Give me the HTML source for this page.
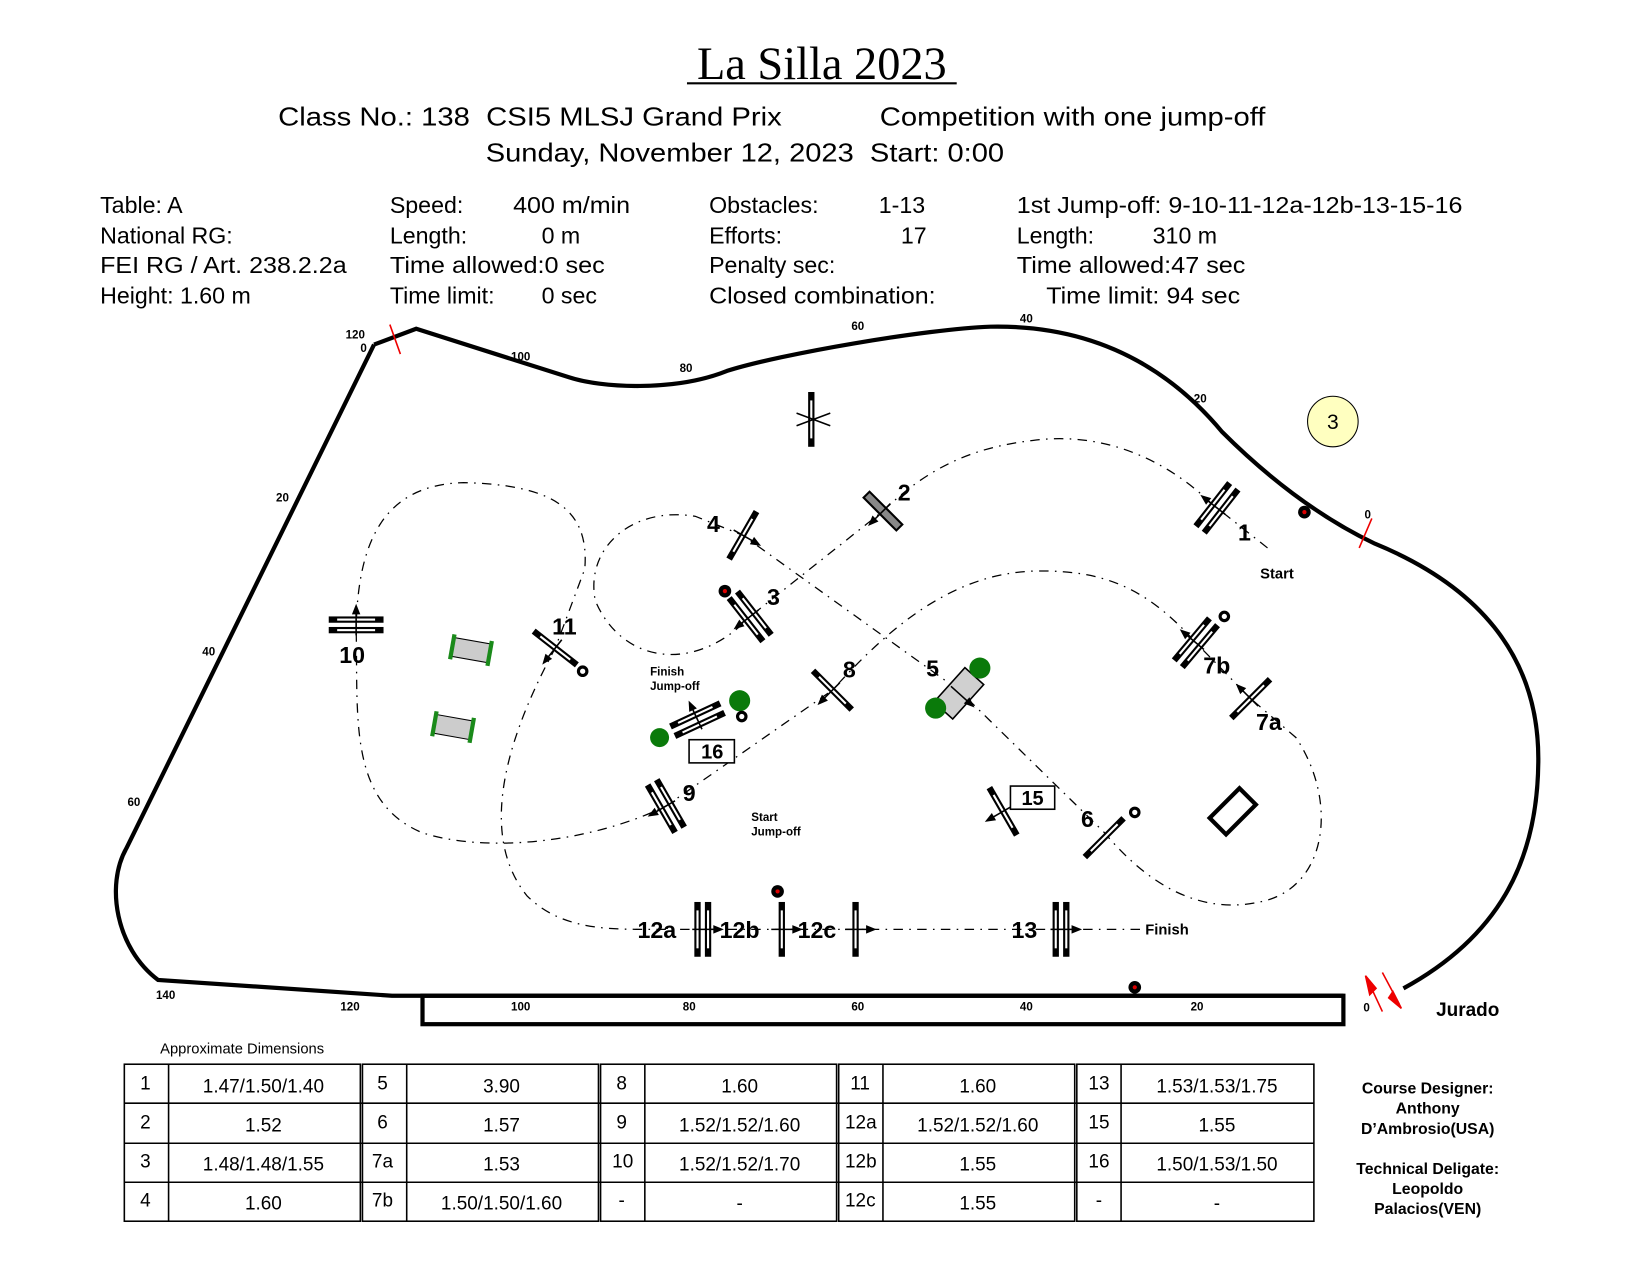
<!DOCTYPE html>
<html><head><meta charset="utf-8"><style>
html,body{margin:0;padding:0;background:#fff}
svg{display:block}
text{font-family:"Liberation Sans",sans-serif;white-space:pre}
</style></head><body>
<svg width="1650" height="1275" viewBox="0 0 1566 1210" xmlns="http://www.w3.org/2000/svg" xml:space="preserve">
<defs>
<g id="f"><rect x="-26" y="-3" width="52" height="6" fill="#000"/><rect x="-18" y="-1" width="36" height="2" fill="#fff"/></g>
<g id="o"><use href="#f" y="-5"/><use href="#f" y="5"/></g>
<g id="a"><line x1="0" y1="10" x2="0" y2="-12" stroke="#000" stroke-width="1.5"/><path d="M0,-20 L-4,-10 L4,-10 Z" fill="#000"/></g>
</defs>
<!-- Header -->
<text x="780" y="75" font-size="44" text-anchor="middle" style="font-family:'Liberation Serif',serif">La Silla 2023</text>
<line x1="652" y1="79" x2="908" y2="79" stroke="#000" stroke-width="2"/>
<g font-size="25">
<text x="264" y="119" textLength="478" lengthAdjust="spacingAndGlyphs">Class No.: 138  CSI5 MLSJ Grand Prix</text>
<text x="835" y="119" textLength="366" lengthAdjust="spacingAndGlyphs">Competition with one jump-off</text>
<text x="461" y="153" textLength="492" lengthAdjust="spacingAndGlyphs">Sunday, November 12, 2023  Start: 0:00</text>
</g>
<g font-size="22">
<text x="95" y="202">Table: A</text><text x="95" y="231">National RG:</text><text x="95" y="259" textLength="234" lengthAdjust="spacingAndGlyphs">FEI RG / Art. 238.2.2a</text><text x="95" y="288">Height: 1.60 m</text>
<text x="370" y="202">Speed:</text><text x="487" y="202" textLength="111" lengthAdjust="spacingAndGlyphs">400 m/min</text>
<text x="370" y="231">Length:</text><text x="514" y="231">0 m</text>
<text x="370" y="259" textLength="204" lengthAdjust="spacingAndGlyphs">Time allowed:0 sec</text>
<text x="370" y="288">Time limit:</text><text x="514" y="288">0 sec</text>
<text x="673" y="202">Obstacles:</text><text x="834" y="202">1-13</text>
<text x="673" y="231">Efforts:</text><text x="855" y="231">17</text>
<text x="673" y="259">Penalty sec:</text>
<text x="673" y="288" textLength="215" lengthAdjust="spacingAndGlyphs">Closed combination:</text>
<text x="965" y="202" textLength="423" lengthAdjust="spacingAndGlyphs">1st Jump-off: 9-10-11-12a-12b-13-15-16</text>
<text x="965" y="231">Length:</text><text x="1094" y="231">310 m</text>
<text x="965" y="259" textLength="217" lengthAdjust="spacingAndGlyphs">Time allowed:47 sec</text>
<text x="993" y="288" textLength="184" lengthAdjust="spacingAndGlyphs">Time limit: 94 sec</text>
</g>
<!-- Arena -->
<path d="M355,327 L395,312 L540,358 C570,368 640,372 690,352 C740,336 880,312 940,310 C1040,308 1110,350 1160,410 C1200,450 1250,490 1305,516 C1400,555 1460,620 1460,720 C1460,820 1420,890 1332,938" fill="none" stroke="#000" stroke-width="4"/>
<path d="M1275,945 L372,945 L150,930 C110,900 100,840 120,805 L355,327" fill="none" stroke="#000" stroke-width="4"/>
<rect x="401" y="945" width="874" height="27" fill="none" stroke="#000" stroke-width="4"/>
<g font-size="11" font-weight="bold">
<text x="328" y="321">120</text><text x="342" y="334">0</text><text x="485" y="342">100</text><text x="645" y="353">80</text><text x="808" y="313">60</text><text x="968" y="306">40</text><text x="1133" y="382">20</text><text x="1295" y="492">0</text>
<text x="262" y="476">20</text><text x="192" y="622">40</text><text x="121" y="765">60</text><text x="148" y="948">140</text><text x="323" y="959">120</text>
<text x="485" y="959">100</text><text x="648" y="959">80</text><text x="808" y="959">60</text><text x="968" y="959">40</text><text x="1130" y="959">20</text><text x="1294" y="960">0</text>
</g>
<g stroke="#e00" stroke-width="1.5" fill="#e00">
<line x1="370" y1="308" x2="380" y2="336"/><line x1="1302" y1="492" x2="1290" y2="520"/>
<line x1="1298" y1="930" x2="1312" y2="960"/><path d="M1296,926 L1300,944 L1306,938Z"/>
<line x1="1312" y1="923" x2="1328" y2="953"/><path d="M1330,957 L1322,941 L1318,947Z"/>
</g>
<text x="1363" y="964" font-size="18" font-weight="bold">Jurado</text>
<circle cx="1265" cy="400" r="24" fill="#ffffc0" stroke="#000" stroke-width="1"/>
<text x="1265" y="407" font-size="20" text-anchor="middle">3</text>
<!-- Track -->
<path d="M1203,520 L1150,478 C1100,430 1040,410 980,418 C920,425 880,445 838,485 L712,585 C660,640 590,630 565,570 C555,520 600,480 660,490 L705,508 L910,655 L1048,790 C1090,840 1140,870 1200,855 C1260,840 1270,760 1230,700 L1187,663 L1135,610 C1090,560 1050,540 980,542 C900,545 840,600 790,655 L632,765 C560,800 460,810 400,790 C330,760 340,680 338,595 C340,520 360,460 440,458 C520,460 560,480 555,540 L527,615 C470,720 460,800 500,850 C530,880 570,882 610,882 L1085,882" fill="none" stroke="#000" stroke-width="1.2" stroke-dasharray="9 6 1.5 6"/>
<!-- fences -->
<g transform="translate(1155,482) rotate(-52)"><use href="#o"/><use href="#a"/></g>
<g transform="translate(838,485) rotate(45)"><rect x="-22" y="-4" width="44" height="8" fill="#888" stroke="#000" stroke-width="2"/><use href="#a" transform="rotate(180)"/></g>
<g transform="translate(712,585) rotate(52)"><use href="#o"/><use href="#a" transform="rotate(180)"/></g>
<g transform="translate(705,508) rotate(-60)"><use href="#f"/><use href="#a" transform="rotate(180)"/></g>
<g transform="translate(910,658) rotate(-48)"><rect x="-22" y="-12" width="44" height="24" fill="#d0d0d0" stroke="#000" stroke-width="1.5"/><use href="#a" transform="rotate(180)"/></g>
<g transform="translate(1048,795) rotate(-45)"><use href="#f"/></g>
<g transform="translate(1187,663) rotate(-45)"><use href="#f"/><use href="#a"/></g>
<g transform="translate(1135,610) rotate(-50)"><use href="#o"/><use href="#a"/></g>
<g transform="translate(790,655) rotate(45)"><use href="#f"/><use href="#a" transform="rotate(180)"/></g>
<g transform="translate(632,765) rotate(60)"><use href="#o"/><use href="#a" transform="rotate(180)"/></g>
<g transform="translate(338,593)"><use href="#o"/><use href="#a"/></g>
<g transform="translate(527,615) rotate(38)"><use href="#f"/><use href="#a" transform="rotate(180)"/></g>
<g transform="translate(667,882) rotate(90)"><use href="#o"/><use href="#a"/></g>
<g transform="translate(742,882) rotate(90)"><use href="#f"/><use href="#a"/></g>
<g transform="translate(812,882) rotate(90)"><use href="#f"/><use href="#a"/></g>
<g transform="translate(1007,882) rotate(90)"><use href="#o"/><use href="#a"/></g>
<g transform="translate(952,770) rotate(60)"><use href="#f"/><use href="#a" transform="rotate(180)"/></g>
<g transform="translate(662,683) rotate(-25)"><use href="#o"/><use href="#a"/></g>
<g transform="translate(770,398) rotate(90)"><use href="#f"/></g>
<path d="M756,392 L788,404 M756,404 L788,392" stroke="#000" stroke-width="1.5"/>
<g transform="translate(447,617) rotate(10)"><rect x="-18" y="-9" width="36" height="18" fill="#ccc" stroke="#000"/><rect x="-20" y="-12" width="4" height="24" fill="#1a8a1a"/><rect x="16" y="-12" width="4" height="24" fill="#1a8a1a"/></g>
<g transform="translate(430,690) rotate(10)"><rect x="-18" y="-9" width="36" height="18" fill="#ccc" stroke="#000"/><rect x="-20" y="-12" width="4" height="24" fill="#1a8a1a"/><rect x="16" y="-12" width="4" height="24" fill="#1a8a1a"/></g>
<g transform="translate(1170,770) rotate(-45)"><rect x="-20" y="-11" width="40" height="22" fill="none" stroke="#000" stroke-width="4"/></g>
<!-- bushes -->
<g fill="#0a7a0a"><circle cx="702" cy="665" r="10"/><circle cx="930" cy="634" r="10"/><circle cx="888" cy="672" r="10"/><circle cx="626" cy="700" r="9"/></g>
<!-- dots -->
<g fill="#000"><circle cx="1238" cy="486" r="6"/><circle cx="688" cy="561" r="6"/><circle cx="738" cy="846" r="6"/><circle cx="1077" cy="937" r="6"/></g>
<g fill="#d00"><circle cx="1238" cy="486" r="2"/><circle cx="688" cy="561" r="2"/><circle cx="738" cy="846" r="2"/><circle cx="1077" cy="937" r="2"/></g>
<g fill="none" stroke="#000" stroke-width="3"><circle cx="1162" cy="585" r="4"/><circle cx="553" cy="637" r="4"/><circle cx="704" cy="680" r="4"/><circle cx="1077" cy="771" r="4"/></g>
<!-- labels -->
<g font-weight="bold" font-size="22">
<text x="1175" y="513">1</text><text x="852" y="475">2</text><text x="728" y="574">3</text><text x="671" y="505">4</text><text x="879" y="642">5</text><text x="1026" y="785">6</text><text x="1192" y="693">7a</text><text x="1142" y="639">7b</text><text x="800" y="643">8</text><text x="648" y="760">9</text><text x="322" y="629">10</text><text x="524" y="602">11</text>
<text x="605" y="890">12a</text><text x="683" y="890">12b</text><text x="757" y="890">12c</text><text x="960" y="890">13</text>
</g>
<rect x="654" y="702" width="43" height="22" fill="#fff" stroke="#000" stroke-width="1.5"/><text x="676" y="720" font-size="19" font-weight="bold" text-anchor="middle">16</text>
<rect x="959" y="746" width="42" height="22" fill="#fff" stroke="#000" stroke-width="1.5"/><text x="980" y="764" font-size="19" font-weight="bold" text-anchor="middle">15</text>
<g font-weight="bold" font-size="14">
<text x="1196" y="549">Start</text><text x="1087" y="887">Finish</text>
<text x="617" y="641" font-size="11">Finish</text><text x="617" y="655" font-size="11">Jump-off</text>
<text x="713" y="779" font-size="11">Start</text><text x="713" y="793" font-size="11">Jump-off</text>
</g>
<!-- table -->
<text x="152" y="1000" font-size="14">Approximate Dimensions</text>
<g fill="none" stroke="#000" stroke-width="1.5">
<rect x="118" y="1010" width="224" height="149"/><line x1="160" y1="1010" x2="160" y2="1159"/>
<rect x="344" y="1010" width="224" height="149"/><line x1="386" y1="1010" x2="386" y2="1159"/>
<rect x="570" y="1010" width="224" height="149"/><line x1="612" y1="1010" x2="612" y2="1159"/>
<rect x="796" y="1010" width="224" height="149"/><line x1="838" y1="1010" x2="838" y2="1159"/>
<rect x="1022" y="1010" width="225" height="149"/><line x1="1064" y1="1010" x2="1064" y2="1159"/>
<line x1="118" y1="1047" x2="1247" y2="1047"/><line x1="118" y1="1085" x2="1247" y2="1085"/><line x1="118" y1="1122" x2="1247" y2="1122"/>
</g>
<g font-size="18">
<text x="133" y="1034">1</text><text x="133" y="1071">2</text><text x="133" y="1108">3</text><text x="133" y="1145">4</text>
<text x="250" y="1037" text-anchor="middle">1.47/1.50/1.40</text><text x="250" y="1074" text-anchor="middle">1.52</text><text x="250" y="1111" text-anchor="middle">1.48/1.48/1.55</text><text x="250" y="1148" text-anchor="middle">1.60</text>
<text x="358" y="1034">5</text><text x="358" y="1071">6</text><text x="353" y="1108">7a</text><text x="353" y="1145">7b</text>
<text x="476" y="1037" text-anchor="middle">3.90</text><text x="476" y="1074" text-anchor="middle">1.57</text><text x="476" y="1111" text-anchor="middle">1.53</text><text x="476" y="1148" text-anchor="middle">1.50/1.50/1.60</text>
<text x="585" y="1034">8</text><text x="585" y="1071">9</text><text x="581" y="1108">10</text><text x="587" y="1145">-</text>
<text x="702" y="1037" text-anchor="middle">1.60</text><text x="702" y="1074" text-anchor="middle">1.52/1.52/1.60</text><text x="702" y="1111" text-anchor="middle">1.52/1.52/1.70</text><text x="702" y="1148" text-anchor="middle">-</text>
<text x="807" y="1034">11</text><text x="802" y="1071">12a</text><text x="802" y="1108">12b</text><text x="802" y="1145">12c</text>
<text x="928" y="1037" text-anchor="middle">1.60</text><text x="928" y="1074" text-anchor="middle">1.52/1.52/1.60</text><text x="928" y="1111" text-anchor="middle">1.55</text><text x="928" y="1148" text-anchor="middle">1.55</text>
<text x="1033" y="1034">13</text><text x="1033" y="1071">15</text><text x="1033" y="1108">16</text><text x="1040" y="1145">-</text>
<text x="1155" y="1037" text-anchor="middle">1.53/1.53/1.75</text><text x="1155" y="1074" text-anchor="middle">1.55</text><text x="1155" y="1111" text-anchor="middle">1.50/1.53/1.50</text><text x="1155" y="1148" text-anchor="middle">-</text>
</g>
<g font-weight="bold" font-size="15" text-anchor="middle">
<text x="1355" y="1038">Course Designer:</text><text x="1355" y="1057">Anthony</text><text x="1355" y="1076">D’Ambrosio(USA)</text>
<text x="1355" y="1114">Technical Deligate:</text><text x="1355" y="1133">Leopoldo</text><text x="1355" y="1152">Palacios(VEN)</text>
</g>
</svg>
</body></html>
